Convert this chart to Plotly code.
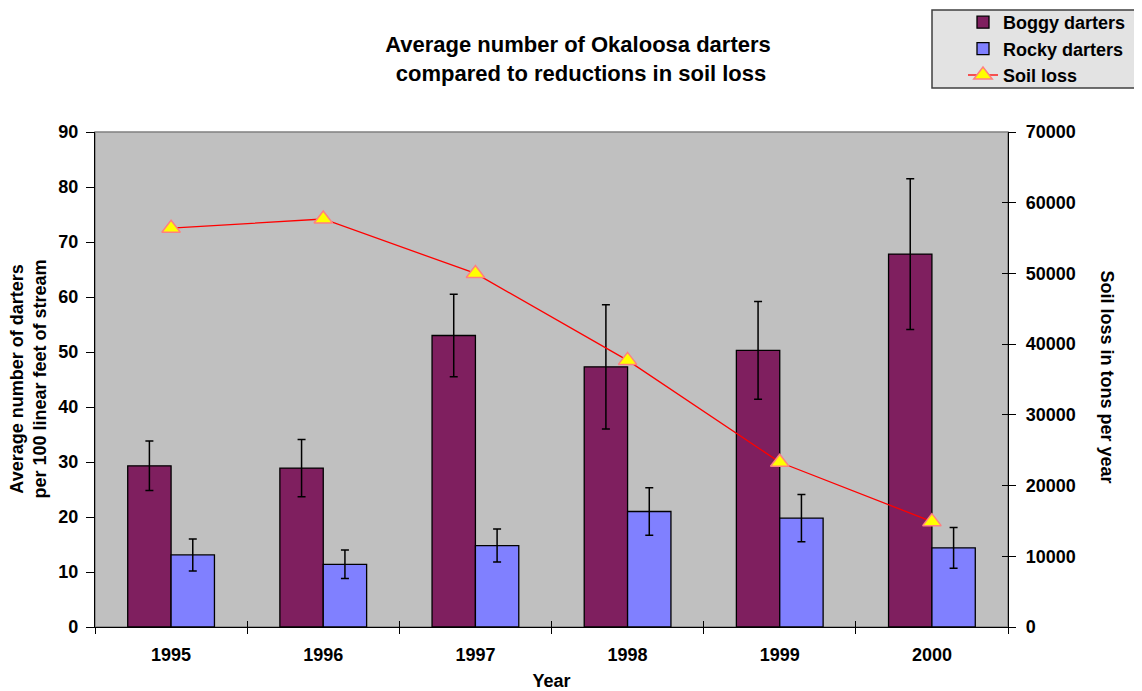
import plotly.graph_objects as go

years = ["1995", "1996", "1997", "1998", "1999", "2000"]
boggy = [29.3, 28.9, 53.0, 47.3, 50.3, 67.8]
boggy_err = [4.5, 5.2, 7.5, 11.3, 8.9, 13.7]
rocky = [13.1, 11.4, 14.8, 21.0, 19.8, 14.4]
rocky_err = [2.9, 2.6, 3.0, 4.3, 4.3, 3.7]
soil = [56400, 57700, 50000, 37700, 23300, 14900]

FONT = "Liberation Sans, Arial, sans-serif"

# page has an 8px body margin, so the figure is 8px smaller and all
# layout positions below are in figure pixels (reference pixels - 8)
W, H = 1134, 683
PL, PR, PT, PB = 87, 1000, 124, 619  # plot area in figure pixels
PW, PH = PR - PL, PB - PT


def px(x):
    return (x - PL) / PW


def py(y):
    return (PB - y) / PH


fig = go.Figure()
fig.add_trace(go.Bar(
    x=years, y=boggy, name="Boggy darters",
    marker=dict(color="#7F1F5F", line=dict(color="black", width=1.3)),
    error_y=dict(type="data", array=boggy_err, color="black", thickness=1.5, width=4),
))
fig.add_trace(go.Bar(
    x=years, y=rocky, name="Rocky darters",
    marker=dict(color="#8080FF", line=dict(color="black", width=1.3)),
    error_y=dict(type="data", array=rocky_err, color="black", thickness=1.5, width=4),
))
fig.add_trace(go.Scatter(
    x=years, y=soil, name="Soil loss", yaxis="y2", mode="lines+markers",
    line=dict(color="#FF0000", width=1.3),
    marker=dict(symbol="triangle-up", size=16, color="#FFFF00",
                line=dict(color="#FF8080", width=1.5)),
))
# invisible helper trace for inner ("cross") tick marks
fig.add_trace(go.Scatter(
    x=years, y=[None] * len(years), xaxis="x2", yaxis="y3",
    mode="markers", showlegend=False, hoverinfo="skip",
))

tickfont = dict(family=FONT, size=18, color="black")

fig.update_layout(
    width=W, height=H,
    margin=dict(l=PL, r=W - PR, t=PT, b=H - PB, autoexpand=False),
    paper_bgcolor="white", plot_bgcolor="#C0C0C0",
    barmode="group", bargap=0.43, bargroupgap=0,
    font=dict(family=FONT, size=18, color="black"),
    title=dict(
        text="<b>Average number of Okaloosa darters<br> compared to reductions in soil loss</b>",
        x=(578 - 8) / W, xanchor="center", y=1 - 44 / H, yanchor="middle",
        font=dict(family=FONT, size=22, color="black"),
    ),
    xaxis=dict(
        type="category", categoryorder="array", categoryarray=years,
        range=[-0.5, 5.5], tickson="boundaries", ticks="outside", ticklen=6,
        tickcolor="black", linecolor="black", linewidth=1.3, showline=True,
        showgrid=False, tickfont=tickfont, ticklabelstandoff=11, automargin=False,
        title=dict(text="<b>Year</b>", font=dict(family=FONT, size=18), standoff=11),
        tickprefix="<b>", ticksuffix="</b>",
    ),
    xaxis2=dict(
        type="category", categoryorder="array", categoryarray=years,
        range=[-0.5, 5.5], tickson="boundaries", ticks="inside", ticklen=6,
        tickcolor="black", showline=False, showgrid=False, showticklabels=False,
        overlaying="x", anchor="y3", automargin=False,
    ),
    yaxis=dict(
        range=[0, 90], dtick=10, ticks="outside", ticklen=8, tickcolor="black",
        linecolor="black", linewidth=1.3, showline=True, showgrid=False, zeroline=False,
        tickfont=tickfont, tickprefix="<b>", ticksuffix="</b>", ticklabelstandoff=4,
        automargin=False,
    ),
    yaxis2=dict(
        range=[0, 70000], dtick=10000, ticks="outside", ticklen=7, tickcolor="black",
        linecolor="black", linewidth=1.3, showline=True, showgrid=False, zeroline=False,
        overlaying="y", side="right", anchor="x", tickformat="d",
        tickfont=tickfont, tickprefix="<b>", ticksuffix="</b>", ticklabelstandoff=6,
        automargin=False,
    ),
    yaxis3=dict(
        range=[0, 70000], dtick=10000, ticks="inside", ticklen=6, tickcolor="black",
        showline=False, showgrid=False, zeroline=False, showticklabels=False,
        overlaying="y", side="right", anchor="x2", automargin=False,
    ),
    legend=dict(
        x=px(955), xanchor="left", y=py(-4), yanchor="top",
        bgcolor="rgba(0,0,0,0)", borderwidth=0,
        font=dict(family=FONT, size=18, color="black"),
        traceorder="normal", itemclick=False,
    ),
    shapes=[
        dict(type="rect", xref="paper", yref="paper", x0=0, x1=1, y0=0, y1=1,
             line=dict(color="#808080", width=1.5), layer="below"),
        dict(type="rect", xref="paper", yref="paper",
             x0=px(924), x1=px(1133), y0=py(80), y1=py(2),
             fillcolor="#E3E3E3", line=dict(color="#404040", width=1.5), layer="below"),
    ],
    annotations=[
        dict(text="<b>Average number of darters<br>per 100 linear feet of stream</b>",
             xref="paper", yref="paper", x=px(20), y=0.5,
             xanchor="center", yanchor="middle", textangle=-90, showarrow=False,
             font=dict(family=FONT, size=18, color="black")),
        dict(text="<b>Soil loss in tons per year</b>",
             xref="paper", yref="paper", x=px(1099), y=0.506,
             xanchor="center", yanchor="middle", textangle=90, showarrow=False,
             font=dict(family=FONT, size=18, color="black")),
    ],
)

fig.for_each_trace(lambda t: t.update(name=f"<b>{t.name}</b>") if t.name else None)

fig.write_html("out.html")
